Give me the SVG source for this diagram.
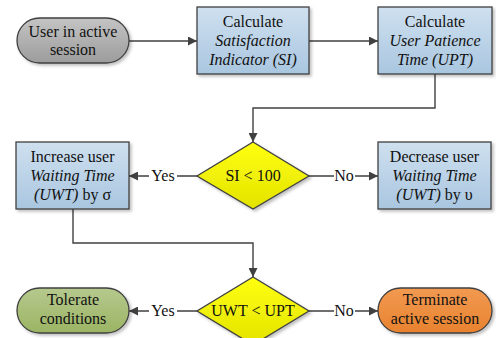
<svg xmlns="http://www.w3.org/2000/svg" width="496" height="338" viewBox="0 0 496 338">
<defs>
<linearGradient id="gGray" x1="0" y1="0" x2="0" y2="1"><stop offset="0" stop-color="#c4c4c4"/><stop offset="1" stop-color="#9c9c9c"/></linearGradient>
<linearGradient id="gBlue" x1="0" y1="0" x2="0" y2="1"><stop offset="0" stop-color="#cfe0ef"/><stop offset="1" stop-color="#a9c6e0"/></linearGradient>
<linearGradient id="gYel" x1="0" y1="0" x2="0" y2="1"><stop offset="0" stop-color="#ffff10"/><stop offset="1" stop-color="#e3e300"/></linearGradient>
<linearGradient id="gGreen" x1="0" y1="0" x2="0" y2="1"><stop offset="0" stop-color="#b6c98e"/><stop offset="1" stop-color="#9bb463"/></linearGradient>
<linearGradient id="gOrange" x1="0" y1="0" x2="0" y2="1"><stop offset="0" stop-color="#f29a52"/><stop offset="1" stop-color="#e8822e"/></linearGradient>
<filter id="sh" x="-10%" y="-10%" width="125%" height="130%"><feDropShadow dx="2" dy="2" stdDeviation="1.5" flood-color="#000" flood-opacity="0.25"/></filter>
<marker id="arr" viewBox="0 0 10 10" refX="10" refY="5" markerWidth="10" markerHeight="9" markerUnits="userSpaceOnUse" orient="auto"><path d="M0,0 L10,5 L0,10 z" fill="#404040"/></marker>
</defs>
<style>
.n{stroke:#404040;stroke-width:1.3;filter:url(#sh)}
.c{fill:none;stroke:#404040;stroke-width:1.4}
</style>
<g font-family="Liberation Serif, Times New Roman, serif" font-size="16" fill="#111" text-anchor="middle">
<g id="connectors">
<path class="c" d="M129,41 H197" marker-end="url(#arr)"/>
<path class="c" d="M309,41 H378" marker-end="url(#arr)"/>
<path class="c" d="M435,74 V108 H253 V142" marker-end="url(#arr)"/>
<path class="c" d="M197,176 H177 M149,176 H129" marker-end="url(#arr)"/>
<text x="163" y="181">Yes</text>
<path class="c" d="M309,176 H334 M355,176 H378" marker-end="url(#arr)"/>
<text x="344" y="181">No</text>
<path class="c" d="M73,209 V243 H253 V277" marker-end="url(#arr)"/>
<path class="c" d="M197,311 H177 M149,311 H129" marker-end="url(#arr)"/>
<text x="163" y="316">Yes</text>
<path class="c" d="M309,311 H334 M355,311 H378" marker-end="url(#arr)"/>
<text x="344" y="316">No</text>
</g>
<g id="start">
<rect class="n" x="17" y="18" width="112" height="45" rx="22.5" fill="url(#gGray)"/>
<text x="73" y="37">User in active</text>
<text x="73" y="55">session</text>
</g>
<g id="calcSI">
<rect class="n" x="197" y="7" width="112" height="67" fill="url(#gBlue)"/>
<text x="253" y="27">Calculate</text>
<text font-style="italic" x="253" y="46">Satisfaction</text>
<text font-style="italic" x="253" y="65">Indicator (SI)</text>
</g>
<g id="calcUPT">
<rect class="n" x="378" y="7" width="114" height="67" fill="url(#gBlue)"/>
<text x="435" y="27">Calculate</text>
<text font-style="italic" x="435" y="46">User Patience</text>
<text font-style="italic" x="435" y="65">Time (UPT)</text>
</g>
<g id="decision1">
<path class="n" d="M253,142 L309,176 L253,209 L197,176 Z" fill="url(#gYel)"/>
<text x="253" y="181">SI &lt; 100</text>
</g>
<g id="increase">
<rect class="n" x="16" y="142" width="113" height="67" fill="url(#gBlue)"/>
<text x="72.5" y="162">Increase user</text>
<text font-style="italic" x="72.5" y="181">Waiting Time</text>
<text x="72.5" y="200"><tspan font-style="italic">(UWT)</tspan> by σ</text>
</g>
<g id="decrease">
<rect class="n" x="378" y="142" width="113" height="67" fill="url(#gBlue)"/>
<text x="434.5" y="162">Decrease user</text>
<text font-style="italic" x="434.5" y="181">Waiting Time</text>
<text x="434.5" y="200"><tspan font-style="italic">(UWT)</tspan> by υ</text>
</g>
<g id="decision2">
<path class="n" d="M253,277 L309,311 L253,345 L197,311 Z" fill="url(#gYel)"/>
<text x="253" y="316">UWT &lt; UPT</text>
</g>
<g id="tolerate">
<rect class="n" x="17" y="288" width="112" height="45" rx="22.5" fill="url(#gGreen)"/>
<text x="73" y="305">Tolerate</text>
<text x="73" y="324">conditions</text>
</g>
<g id="terminate">
<rect class="n" x="378" y="288" width="114" height="45" rx="22.5" fill="url(#gOrange)"/>
<text x="435" y="305">Terminate</text>
<text x="435" y="324">active session</text>
</g>
</g>
</svg>
